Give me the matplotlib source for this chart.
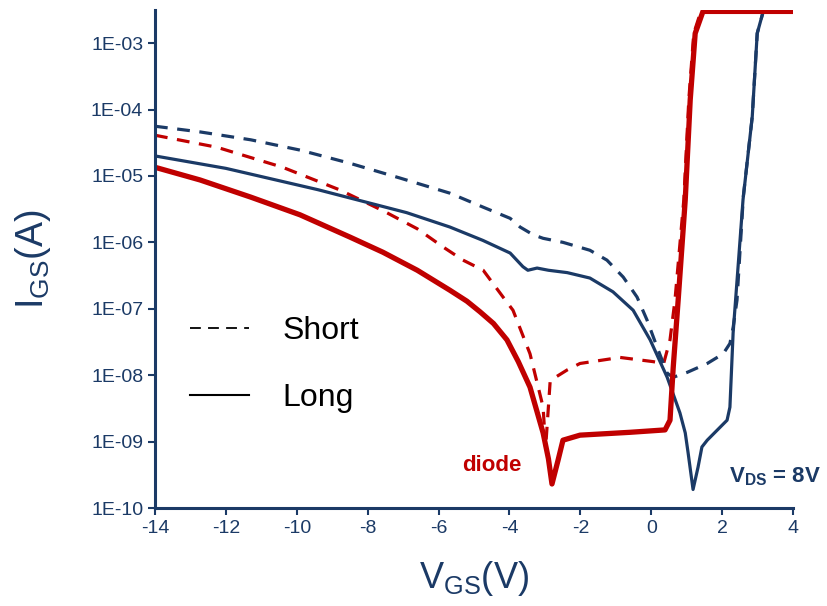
import matplotlib
matplotlib.use('Agg')
import matplotlib.pyplot as plt
from matplotlib.lines import Line2D

plt.rcParams['font.family'] = ['Liberation Sans', 'DejaVu Sans']
plt.rcParams['mathtext.fontset'] = 'custom'
plt.rcParams['mathtext.rm'] = 'Liberation Sans'
plt.rcParams['mathtext.bf'] = 'Liberation Sans:bold'
plt.rcParams['axes.unicode_minus'] = False

navy = '#1B3A66'
red = '#C00000'

# Long channel, transistor (blue solid)
x_long_tft = [-14, -12, -9.4, -6.9, -5.68, -4.75, -3.98, -3.62, -3.48, -3.22, -2.9, -2.37, -1.73,
              -1.08, -0.51, -0.03, 0.45, 0.81, 0.96, 1.04, 1.18, 1.32, 1.43, 1.58, 2.14, 2.22,
              2.31, 2.45, 2.59, 2.85, 2.99, 3.16, 4.0]
i_long_tft = [2.0e-5, 1.3e-5, 6.2e-6, 2.8e-6, 1.7e-6, 1.07e-6, 6.9e-7, 4.3e-7, 3.8e-7, 4.1e-7,
              3.8e-7, 3.5e-7, 2.9e-7, 1.8e-7, 9.5e-8, 3.4e-8, 9.3e-9, 2.7e-9, 1.35e-9, 6.8e-10,
              1.9e-10, 4.1e-10, 8.3e-10, 1.05e-9, 2.1e-9, 3.3e-9, 4.3e-8, 4.3e-7, 4.4e-6, 7.8e-5,
              1.4e-3, 3.0e-3, 3.0e-3]

# Short channel, transistor (blue dashed)
x_short_tft = [-14, -12.73, -11.3, -9.91, -8.5, -7.09, -5.68, -4.75, -3.98, -3.7, -3.33, -3.05,
               -2.49, -1.73, -1.25, -0.79, -0.4, -0.12, 0.17, 0.45, 0.62, 1.01, 1.58, 2.03, 2.22,
               2.31, 2.42, 2.6, 2.85, 2.99, 3.16, 4.0]
i_short_tft = [5.6e-5, 4.6e-5, 3.5e-5, 2.45e-5, 1.55e-5, 9.3e-6, 5.5e-6, 3.4e-6, 2.3e-6, 1.7e-6,
               1.3e-6, 1.15e-6, 1.0e-6, 7.6e-7, 5.4e-7, 3.0e-7, 1.5e-7, 6.8e-8, 2.6e-8, 1.07e-8,
               9.3e-9, 1.1e-8, 1.5e-8, 2.1e-8, 3.0e-8, 5.2e-8, 1.35e-7, 5.0e-6, 7.8e-5, 1.4e-3,
               3.0e-3, 3.0e-3]

# Long channel, diode (red solid)
x_long_diode = [-14, -12.73, -11.3, -9.91, -8.5, -7.57, -6.6, -5.68, -5.2, -4.83, -4.45, -4.07,
                -3.75, -3.42, -3.05, -2.9, -2.8, -2.63, -2.49, -2.01, -0.6, 0.39, 0.53, 0.62,
                0.76, 0.96, 1.1, 1.24, 1.46, 4.0]
i_long_diode = [1.35e-5, 8.7e-6, 4.8e-6, 2.6e-6, 1.2e-6, 7.1e-7, 3.8e-7, 1.9e-7, 1.3e-7,
                9.0e-8, 6.0e-8, 3.4e-8, 1.6e-8, 6.6e-9, 1.35e-9, 5.5e-10, 2.3e-10, 5.2e-10,
                1.05e-9, 1.25e-9, 1.38e-9, 1.5e-9, 2.1e-9, 1.3e-8, 1.35e-7, 4.4e-6, 1.4e-4,
                1.4e-3, 3.0e-3, 3.0e-3]

# Short channel, diode (red dashed)
x_short_diode = [-14, -12.25, -10.4, -8.8, -7.57, -6.6, -5.87, -5.31, -4.74, -4.18, -3.9, -3.42,
                 -3.05, -2.98, -2.85, -2.37, -2.01, -0.88, 0.05, 0.35, 0.53, 0.67, 0.92, 1.06,
                 1.2, 1.4, 4.0]
i_short_diode = [4.1e-5, 2.7e-5, 1.35e-5, 6.2e-6, 3.0e-6, 1.6e-6, 8.5e-7, 5.4e-7, 3.8e-7, 1.5e-7,
                 9.5e-8, 2.1e-8, 3.3e-9, 8.0e-10, 8.3e-9, 1.2e-8, 1.5e-8, 1.85e-8, 1.6e-8, 1.5e-8,
                 3.4e-8, 1.35e-7, 4.4e-6, 1.4e-4, 1.4e-3, 3.0e-3, 3.0e-3]

y_ticks = [1e-10, 1e-9, 1e-8, 1e-7, 1e-6, 1e-5, 1e-4, 1e-3]
y_ticklabels = ['1E-10', '1E-09', '1E-08', '1E-07', '1E-06', '1E-05', '1E-04', '1E-03']
x_ticks = [-14, -12, -10, -8, -6, -4, -2, 0, 2, 4]

fig = plt.figure(figsize=(8.27, 6.06), dpi=100)
ax = fig.add_axes([0.1874, 0.1617, 0.7715, 0.8218])

line_kw = dict(solid_joinstyle='round', dash_joinstyle='round')
ax.plot(x_short_diode, i_short_diode, color=red, lw=2.3, ls=(0, (4, 3)), **line_kw)
ax.plot(x_short_tft, i_short_tft, color=navy, lw=2.3, ls=(0, (4, 3)), **line_kw)
ax.plot(x_long_tft, i_long_tft, color=navy, lw=2.3, **line_kw)
ax.plot(x_long_diode, i_long_diode, color=red, lw=3.8, **line_kw)

ax.set_yscale('log')
ax.set_xlim(-14, 4)
ax.set_ylim(1e-10, 3.15e-3)
ax.set_yticks(y_ticks)
ax.set_yticklabels(y_ticklabels)
ax.minorticks_off()
ax.set_xticks(x_ticks)

for s in ['top', 'right']:
    ax.spines[s].set_visible(False)
for s in ['left', 'bottom']:
    ax.spines[s].set_color(navy)
    ax.spines[s].set_linewidth(2.2)
ax.tick_params(colors=navy, labelsize=14, width=1.5, length=5, direction='out')

ax.set_xlabel(r'$\mathregular{V_{GS}(V)}$', fontsize=26, color=navy, labelpad=16)
ax.set_ylabel(r'$\mathregular{I_{GS}(A)}$', fontsize=27, color=navy, labelpad=27)

ax.text(-4.5, 4.4e-10, 'diode', color=red, fontsize=16, fontweight='bold', ha='center', va='center')
ax.text(2.2, 3.0e-10, r'$\mathbf{V_{DS}}$' + ' = 8V', color=navy, fontsize=16,
        fontweight='bold', ha='left', va='center')

handles = [Line2D([], [], color='black', lw=1.3, ls=(0, (6, 4))),
           Line2D([], [], color='black', lw=1.5)]
ax.legend(handles, ['Short', 'Long'], loc='upper left', bbox_to_anchor=(0.01, 0.443),
          frameon=False, fontsize=23, handlelength=1.83, handletextpad=1.05, labelspacing=1.16)

fig.savefig('out.png', dpi=100)
